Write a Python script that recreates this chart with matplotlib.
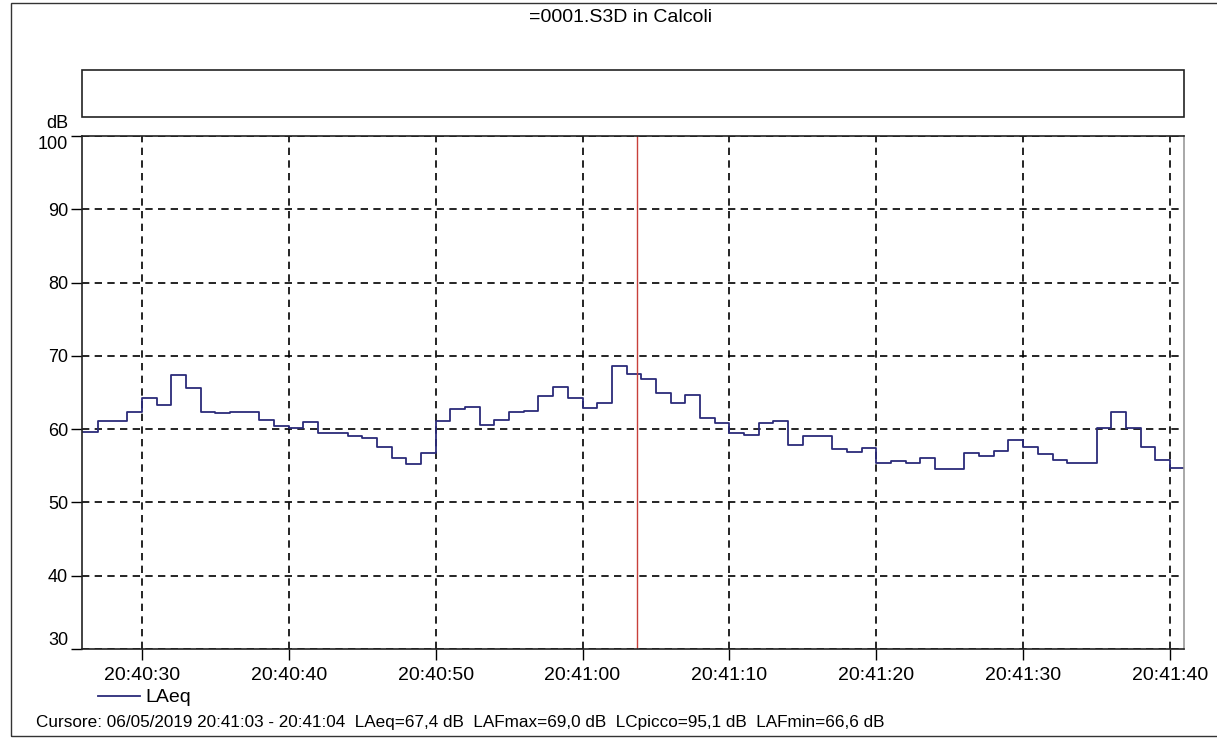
import matplotlib
matplotlib.use("Agg")
import matplotlib.pyplot as plt
from matplotlib.patches import Rectangle
from matplotlib.ticker import FixedLocator, FuncFormatter

plt.rcParams['font.family'] = ['Liberation Sans', 'DejaVu Sans']

# seconds after 20:40:00, one value per second (LAeq, dB)
start_sec = 26
laeq = [59.6, 61.1, 61.1, 62.4, 64.3, 63.3, 67.4, 65.6, 62.4, 62.2,
        62.4, 62.4, 61.2, 60.4, 60.2, 61.0, 59.5, 59.5, 59.0, 58.8,
        57.5, 56.1, 55.3, 56.8, 61.1, 62.8, 63.0, 60.5, 61.2, 62.3,
        62.5, 64.5, 65.8, 64.3, 62.9, 63.6, 68.6, 67.5, 66.8, 64.9,
        63.6, 64.6, 61.5, 60.8, 59.5, 59.2, 60.8, 61.1, 57.9, 59.0,
        59.0, 57.3, 56.9, 57.4, 55.4, 55.7, 55.4, 56.0, 54.6, 54.6,
        56.8, 56.4, 57.0, 58.5, 57.5, 56.6, 55.8, 55.4, 55.4, 60.2,
        62.3, 60.2, 57.6, 55.8, 54.7]
tick_secs = [30, 40, 50, 60, 70, 80, 90, 100]
tick_labels = ["20:40:30", "20:40:40", "20:40:50", "20:41:00",
               "20:41:10", "20:41:20", "20:41:30", "20:41:40"]
y_ticks = [30, 40, 50, 60, 70, 80, 90, 100]
cursor_sec = 63.7

title = "=0001.S3D in Calcoli"
cursor_text = ("Cursore: 06/05/2019 20:41:03 - 20:41:04  LAeq=67,4 dB  "
               "LAFmax=69,0 dB  LCpicco=95,1 dB  LAFmin=66,6 dB")

W, H = 1217, 740
fig = plt.figure(figsize=(W / 100, H / 100), dpi=100)

def fx(px):
    return px / W

def fy(py):
    return 1 - py / H

# outer frame
fig.patches.append(Rectangle((fx(11), fy(736)), fx(1230) - fx(11), fy(3) - fy(736),
                             transform=fig.transFigure, fill=False,
                             edgecolor='#333333', linewidth=1.0))
# empty band box
fig.patches.append(Rectangle((fx(82), fy(117)), fx(1184) - fx(82), fy(70) - fy(117),
                             transform=fig.transFigure, fill=False,
                             edgecolor='#222222', linewidth=1.2))

fig.text(0.5 + fx(12), fy(18), title, ha='center', va='center', fontsize=14)

ax = fig.add_axes([fx(82), fy(649), fx(1184) - fx(82), fy(136) - fy(649)])
xs = [start_sec + i for i in range(len(laeq))] + [start_sec + len(laeq)]
ys = laeq + [laeq[-1]]
ax.step(xs, ys, where='post', color='#2b2b7a', linewidth=1.3, label='LAeq')
ax.axvline(cursor_sec, color='#c8403a', linewidth=1.0)

ax.set_xlim(25.92, 100.95)
ax.set_ylim(30, 100)
ax.xaxis.set_major_locator(FixedLocator(tick_secs))
ax.xaxis.set_major_formatter(FuncFormatter(
    lambda v, p: tick_labels[tick_secs.index(int(round(v)))] if int(round(v)) in tick_secs else ""))
ax.set_yticks(y_ticks)
ax.grid(True, color='black', linestyle=(0, (4.4, 3.2)), linewidth=1.2)
ax.tick_params(axis='both', length=8, width=1.0, direction='out')
ax.tick_params(axis='x', labelsize=14, pad=5)
ax.tick_params(axis='y', labelsize=13, pad=2)
for s in ax.spines.values():
    s.set_color('#222222')
    s.set_linewidth(1.2)
ax.spines['right'].set_color('#999999')

ylabels = ax.get_yticklabels()
ylabels[0].set_va('bottom')
ylabels[-1].set_va('top')

fig.text(fx(57), fy(123), "dB", ha='center', va='center', fontsize=13)

# legend
fig.lines.append(plt.Line2D([fx(98), fx(140)], [fy(696), fy(696)],
                            transform=fig.transFigure, color='#2b2b7a', linewidth=1.3))
fig.text(fx(145), fy(697), "LAeq", ha='left', va='center', fontsize=14)

fig.text(fx(36), fy(722), cursor_text, ha='left', va='center', fontsize=12.3)

fig.savefig("out.png", dpi=100)
